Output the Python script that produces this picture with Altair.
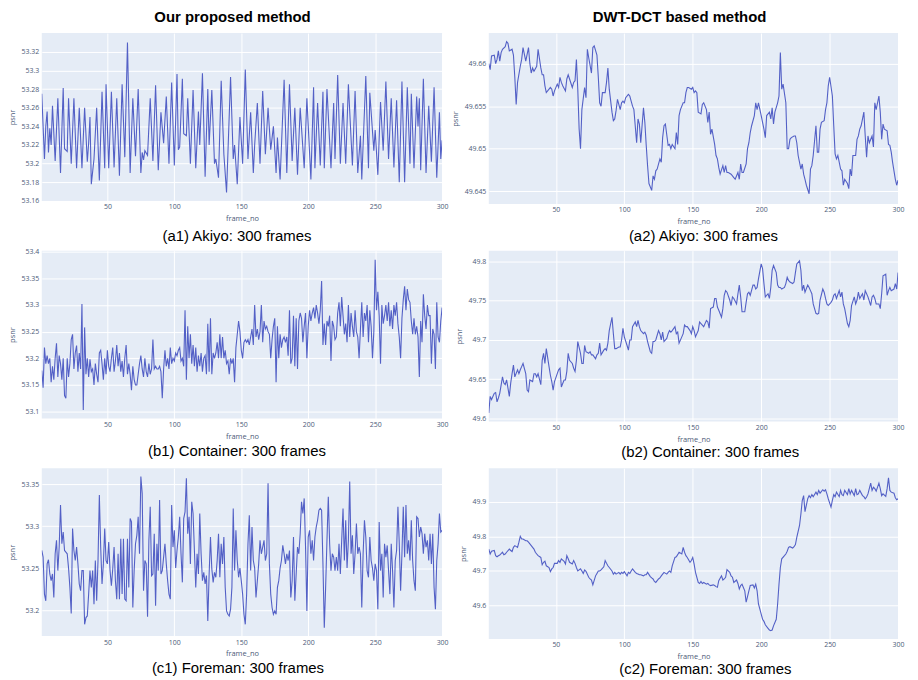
import altair as alt
import pandas as pd

# ---------------- data ----------------
XTICKS = [50, 100, 150, 200, 250, 300]

# (a1) Akiyo, proposed method: turning points (frame, psnr)
a1_frames = [1,3,4,5,6,7,8,9,11,13,15,17,18,20,21,23,25,27,29,31,33,35,36,37,38,40,42,44,46,48,49,51,53,55,57,59,61,63,65,67,69,71,73,75,76,77,78,80,82,84,86,88,90,92,94,96,98,100,102,103,104,106,107,109,110,112,114,116,118,119,121,123,125,126,128,130,131,133,135,137,139,142,144,145,147,149,151,153,155,157,159,160,162,164,166,168,170,172,174,176,177,179,182,184,186,188,190,192,194,197,199,202,204,205,207,209,211,212,214,217,219,220,222,224,226,228,230,233,235,237,239,240,243,245,246,249,250,252,254,256,258,260,262,264,266,268,270,272,274,276,277,279,281,282,283,284,286,288,290,292,294,296,298,299,300]
a1_psnr = [53.275,53.205,53.24,53.256,53.212,53.238,53.22,53.262,53.203,53.27,53.19,53.281,53.216,53.213,53.27,53.2,53.27,53.195,53.26,53.195,53.26,53.202,53.222,53.25,53.178,53.205,53.26,53.182,53.277,53.195,53.285,53.195,53.277,53.196,53.27,53.187,53.285,53.207,53.33,53.19,53.27,53.208,53.28,53.19,53.212,53.204,53.214,53.209,53.27,53.203,53.284,53.193,53.255,53.222,53.272,53.2,53.287,53.198,53.296,53.215,53.218,53.291,53.232,53.23,53.27,53.2,53.279,53.195,53.256,53.22,53.297,53.186,53.28,53.22,53.279,53.2,53.205,53.185,53.289,53.21,53.169,53.293,53.205,53.22,53.178,53.25,53.2,53.301,53.205,53.255,53.19,53.22,53.265,53.2,53.278,53.21,53.26,53.215,53.24,53.19,53.228,53.183,53.29,53.19,53.285,53.203,53.26,53.188,53.26,53.195,53.27,53.183,53.282,53.195,53.265,53.198,53.277,53.195,53.28,53.195,53.265,53.205,53.295,53.2,53.265,53.2,53.285,53.198,53.278,53.19,53.23,53.183,53.294,53.195,53.276,53.214,53.236,53.188,53.266,53.214,53.288,53.205,53.27,53.196,53.268,53.18,53.288,53.18,53.282,53.2,53.275,53.195,53.272,53.24,53.27,53.193,53.291,53.19,53.262,53.202,53.282,53.185,53.255,53.205,53.225]

# (a2) Akiyo, DWT-DCT method
a2_frames = [1,2,3,5,6,7,8,9,10,11,13,14,15,16,18,19,20,21,22,24,25,26,27,28,30,31,32,33,34,36,37,39,40,41,42,43,45,46,47,48,49,51,52,53,54,55,57,58,59,60,62,63,64,65,66,67,68,69,71,72,73,74,76,77,78,80,81,82,83,84,86,87,88,89,91,92,93,94,95,97,98,99,100,101,103,104,105,106,107,109,110,111,112,114,115,116,117,118,120,121,122,123,124,126,127,128,129,130,132,133,134,135,137,138,139,140,141,143,144,145,146,147,149,150,151,152,153,154,156,157,158,160,161,162,163,164,166,167,168,169,170,172,173,174,175,176,178,179,180,181,183,184,185,186,187,189,190,191,192,193,195,196,197,198,200,201,202,203,204,206,207,208,209,210,212,213,214,215,216,218,219,220,221,222,224,225,226,227,229,230,231,232,233,235,236,237,238,240,241,242,243,244,246,247,248,249,250,252,253,254,255,256,258,259,260,261,263,264,265,266,267,269,270,271,272,273,275,276,277,278,279,281,282,283,284,286,287,288,289,290,292,293,294,295,296,298,299,300]
a2_psnr = [49.6600,49.6593,49.6609,49.6610,49.6600,49.6605,49.6615,49.6603,49.6613,49.6617,49.6620,49.6626,49.6624,49.6615,49.6617,49.6610,49.6584,49.6552,49.6578,49.6597,49.6605,49.6619,49.6611,49.6603,49.6619,49.6600,49.6589,49.6595,49.6591,49.6597,49.6617,49.6595,49.6587,49.6587,49.6574,49.6566,49.6570,49.6572,49.6570,49.6562,49.6568,49.6576,49.6572,49.6584,49.6578,49.6574,49.6568,49.6582,49.6587,49.6582,49.6572,49.6578,49.6580,49.6605,49.6570,49.6523,49.6500,49.6546,49.6572,49.6560,49.6617,49.6607,49.6589,49.6619,49.6621,49.6610,49.6584,49.6554,49.6550,49.6566,49.6566,49.6578,49.6595,49.6570,49.6543,49.6533,49.6535,49.6545,49.6558,49.6546,49.6554,49.6556,49.6554,49.6560,49.6564,49.6562,49.6556,49.6550,49.6546,49.6507,49.6535,49.6529,49.6507,49.6548,49.6531,49.6504,49.6480,49.6459,49.6451,49.6468,49.6464,49.6474,49.6476,49.6488,49.6484,49.6513,49.6527,49.6529,49.6504,49.6505,49.6500,49.6505,49.6500,49.6519,49.6505,49.6539,49.6546,49.6554,49.6554,49.6566,49.6572,49.6572,49.6570,49.6572,49.6566,49.6568,49.6566,49.6543,49.6541,49.6552,49.6554,49.6546,49.6531,49.6543,49.6517,49.6523,49.6505,49.6492,49.6488,49.6478,49.6470,49.6480,49.6472,49.6480,49.6472,49.6472,49.6470,49.6468,49.6466,49.6464,49.6472,49.6464,49.6482,49.6472,49.6472,49.6482,49.6500,49.6507,49.6519,49.6527,49.6539,49.6554,49.6546,49.6554,49.6539,49.6531,49.6523,49.6513,49.6539,49.6543,49.6535,49.6548,49.6529,49.6543,49.6554,49.6562,49.6613,49.6570,49.6576,49.6554,49.6500,49.6500,49.6511,49.6513,49.6515,49.6515,49.6507,49.6492,49.6476,49.6482,49.6470,49.6464,49.6457,49.6447,49.6476,49.6480,49.6492,49.6527,49.6496,49.6496,49.6523,49.6531,49.6533,49.6546,49.6554,49.6574,49.6584,49.6562,49.6527,49.6494,49.6488,49.6492,49.6476,49.6474,49.6457,49.6464,49.6459,49.6453,49.6476,49.6468,49.6492,49.6492,49.6511,49.6515,49.6523,49.6527,49.6543,49.6515,49.6490,49.6515,49.6507,49.6515,49.6502,49.6554,49.6546,49.6562,49.6543,49.6511,49.6529,49.6523,49.6521,49.6505,49.6504,49.6496,49.6484,49.6464,49.6457,49.6463]

# (b1) Container, proposed method: one value per frame 1..300
b1_psnr = [53.177,53.145,53.22,53.19,53.205,53.19,53.2,53.155,53.185,53.16,
53.2,53.228,53.165,53.205,53.19,53.16,53.2,53.13,53.125,53.2,
53.165,53.19,53.235,53.245,53.18,53.21,53.224,53.175,53.21,53.18,
53.302,53.103,53.258,53.17,53.2,53.165,53.198,53.175,53.18,53.15,
53.19,53.17,53.155,53.21,53.215,53.19,53.16,53.2,53.17,53.215,
53.185,53.175,53.2,53.22,53.175,53.195,53.225,53.185,53.21,53.175,
53.195,53.165,53.2,53.225,53.17,53.19,53.17,53.14,53.185,53.16,
53.15,53.15,53.17,53.19,53.205,53.18,53.165,53.2,53.175,53.165,
53.19,53.17,53.18,53.235,53.18,53.185,53.18,53.18,53.185,53.175,
53.125,53.18,53.215,53.185,53.2,53.18,53.22,53.19,53.2,53.195,
53.21,53.205,53.215,53.22,53.195,53.2,53.185,53.29,53.16,53.26,
53.2,53.245,53.19,53.225,53.185,53.22,53.175,53.205,53.185,53.21,
53.175,53.2,53.205,53.17,53.265,53.175,53.275,53.17,53.21,53.2,
53.21,53.23,53.2,53.245,53.2,53.24,53.2,53.215,53.19,53.195,
53.17,53.2,53.19,53.2,53.155,53.22,53.245,53.27,53.25,53.215,
53.2,53.23,53.235,53.23,53.235,53.225,53.24,53.255,53.225,53.3,
53.24,53.255,53.235,53.25,53.3,53.23,53.27,53.255,53.26,53.25,
53.245,53.2,53.235,53.26,53.275,53.155,53.26,53.2,53.245,53.22,
53.235,53.24,53.23,53.24,53.205,53.29,53.19,53.2,53.28,53.185,
53.275,53.18,53.27,53.285,53.275,53.23,53.26,53.285,53.2,53.26,
53.29,53.27,53.285,53.295,53.275,53.3,53.285,53.265,53.29,53.345,
53.225,53.265,53.225,53.27,53.26,53.28,53.195,53.27,53.26,53.235,
53.24,53.285,53.305,53.26,53.315,53.28,53.245,53.265,53.23,53.3,
53.24,53.285,53.26,53.24,53.29,53.25,53.24,53.2,53.255,53.305,
53.24,53.285,53.27,53.3,53.23,53.29,53.26,53.2,53.25,53.385,
53.29,53.325,53.28,53.19,53.3,53.265,53.28,53.3,53.27,53.305,
53.26,53.29,53.255,53.3,53.28,53.305,53.265,53.24,53.2,53.275,
53.31,53.335,53.29,53.33,53.31,53.305,53.27,53.245,53.275,53.245,
53.26,53.24,53.165,53.27,53.23,53.32,53.28,53.255,53.3,53.28,
53.28,53.19,53.255,53.245,53.18,53.305,53.24,53.23,53.27,53.295]

# (b2) Container and (c2) Foreman, DWT-DCT method: shared sampling frames
dwt_frames = [1,2,3,5,6,7,8,9,11,12,13,14,16,17,18,19,20,22,23,24,25,26,28,29,30,31,33,34,35,36,37,39,40,41,42,43,45,46,47,48,49,51,52,53,54,56,57,58,59,60,62,63,64,65,66,68,69,70,71,72,74,75,76,77,79,80,81,82,83,85,86,87,88,89,91,92,93,94,96,97,98,99,100,102,103,104,105,106,108,109,110,111,112,114,115,116,117,119,120,121,122,123,125,126,127,128,129,131,132,133,134,135,137,138,139,140,142,143,144,145,146,148,149,150,151,152,154,155,156,157,158,160,161,162,163,165,166,167,168,169,171,172,173,174,175,177,178,179,180,182,183,184,185,186,188,189,190,191,192,194,195,196,197,198,200,201,202,203,205,206,207,208,209,211,212,213,214,215,217,218,219,220,221,223,224,225,226,228,229,230,231,232,234,235,236,237,238,240,241,242,243,245,246,247,248,249,251,252,253,254,255,257,258,259,260,261,263,264,265,266,268,269,270,271,272,274,275,276,277,278,280,281,282,283,284,286,287,288,289,291,292,293,294,295,297,298,299,300]
b2_psnr = [49.607,49.628,49.624,49.632,49.633,49.621,49.626,49.632,49.653,49.645,
49.643,49.649,49.628,49.645,49.657,49.668,49.653,49.662,49.657,49.662,
49.666,49.670,49.657,49.636,49.634,49.649,49.647,49.657,49.657,49.653,
49.657,49.643,49.674,49.683,49.670,49.689,49.666,49.655,49.647,49.636,
49.647,49.657,49.662,49.664,49.640,49.649,49.649,49.660,49.683,49.674,
49.670,49.664,49.660,49.674,49.698,49.683,49.670,49.670,49.693,49.685,
49.683,49.685,49.681,49.681,49.676,49.681,49.683,49.696,49.681,49.687,
49.689,49.687,49.696,49.712,49.729,49.708,49.689,49.689,49.691,49.691,
49.700,49.715,49.704,49.693,49.687,49.700,49.700,49.717,49.723,49.717,
49.725,49.717,49.712,49.708,49.710,49.706,49.698,49.685,49.683,49.698,
49.698,49.700,49.712,49.708,49.700,49.710,49.698,49.702,49.708,49.712,
49.710,49.712,49.717,49.708,49.710,49.696,49.704,49.708,49.719,49.717,
49.717,49.712,49.708,49.717,49.712,49.704,49.712,49.723,49.721,49.719,
49.717,49.725,49.723,49.715,49.740,49.742,49.753,49.753,49.742,49.738,
49.729,49.740,49.757,49.763,49.761,49.751,49.744,49.755,49.753,49.746,
49.759,49.770,49.755,49.736,49.736,49.748,49.759,49.761,49.757,49.770,
49.770,49.765,49.767,49.778,49.797,49.791,49.772,49.755,49.759,49.753,
49.767,49.789,49.795,49.786,49.770,49.767,49.767,49.765,49.767,49.772,
49.780,49.776,49.774,49.772,49.774,49.786,49.797,49.801,49.789,49.763,
49.770,49.761,49.770,49.767,49.763,49.759,49.746,49.734,49.733,49.734,
49.751,49.765,49.761,49.753,49.746,49.744,49.748,49.751,49.757,49.759,
49.753,49.763,49.755,49.761,49.746,49.740,49.721,49.717,49.725,49.744,
49.755,49.746,49.751,49.761,49.753,49.759,49.751,49.763,49.759,49.755,
49.744,49.755,49.757,49.753,49.746,49.746,49.740,49.759,49.782,49.784,
49.757,49.763,49.767,49.763,49.765,49.772,49.765,49.786]

# (c1) Foreman, proposed method: one value per frame 1..300
c1_psnr = [53.271,53.263,53.219,53.211,53.255,53.26,53.243,53.235,53.243,53.215,
53.267,53.283,53.247,53.275,53.325,53.279,53.293,53.271,53.269,53.267,
53.25,53.227,53.196,53.297,53.271,53.259,53.275,53.255,53.231,53.223,
53.247,53.247,53.183,53.191,53.193,53.219,53.247,53.227,53.247,53.207,
53.259,53.211,53.259,53.337,53.275,53.231,53.255,53.297,53.259,53.255,
53.281,53.247,53.229,53.249,53.275,53.235,53.213,53.267,53.213,53.285,
53.219,53.285,53.213,53.211,53.285,53.227,53.309,53.305,53.203,53.247,
53.279,53.289,53.311,53.267,53.359,53.339,53.223,53.259,53.255,53.192,
53.283,53.323,53.241,53.243,53.291,53.205,53.279,53.247,53.331,53.243,
53.247,53.263,53.279,53.255,53.235,53.219,53.213,53.325,53.275,53.295,
53.25,53.271,53.287,53.311,53.267,53.233,53.309,53.317,53.357,53.291,
53.311,53.255,53.329,53.315,53.271,53.227,53.267,53.243,53.315,53.267,
53.235,53.245,53.231,53.241,53.187,53.243,53.287,53.249,53.233,53.245,
53.239,53.259,53.291,53.239,53.279,53.255,53.287,53.227,53.199,53.195,
53.193,53.201,53.227,53.321,53.247,53.295,53.259,53.239,53.25,53.235,
53.219,53.195,53.183,53.219,53.279,53.313,53.247,53.299,53.259,53.25,
53.215,53.235,53.255,53.283,53.267,53.275,53.283,53.259,53.267,53.351,
53.255,53.219,53.203,53.195,53.199,53.195,53.227,53.235,53.25,53.259,
53.277,53.267,53.255,53.267,53.259,53.271,53.215,53.235,53.287,53.211,
53.243,53.275,53.267,53.291,53.329,53.315,53.333,53.275,53.199,53.287,
53.295,53.267,53.283,53.259,53.287,53.299,53.307,53.319,53.321,53.319,
53.255,53.179,53.227,53.283,53.335,53.279,53.247,53.267,53.263,53.247,
53.263,53.247,53.279,53.243,53.283,53.321,53.259,53.307,53.25,53.283,
53.353,53.267,53.289,53.243,53.267,53.303,53.267,53.275,53.267,53.203,
53.267,53.307,53.287,53.247,53.239,53.287,53.259,53.25,53.235,53.255,
53.247,53.201,53.305,53.247,53.267,53.215,53.279,53.263,53.277,53.247,
53.219,53.279,53.247,53.203,53.259,53.271,53.323,53.279,53.223,53.267,
53.323,53.263,53.325,53.267,53.283,53.259,53.307,53.259,53.235,53.223,
53.311,53.309,53.287,53.299,53.291,53.267,53.291,53.275,53.283,53.259,
53.291,53.255,53.291,53.227,53.201,53.259,53.279,53.315,53.293,53.295]

c2_psnr = [49.763,49.749,49.757,49.759,49.744,49.741,49.744,49.746,49.754,49.747,
49.749,49.754,49.763,49.759,49.756,49.768,49.773,49.768,49.783,49.800,
49.792,49.792,49.787,49.787,49.783,49.778,49.768,49.763,49.754,49.749,
49.744,49.739,49.718,49.725,49.728,49.715,49.710,49.698,49.706,49.710,
49.722,49.722,49.730,49.725,49.735,49.728,49.720,49.744,49.735,49.725,
49.720,49.730,49.722,49.710,49.700,49.706,49.700,49.693,49.703,49.699,
49.682,49.677,49.674,49.660,49.686,49.693,49.700,49.700,49.703,49.712,
49.730,49.722,49.715,49.710,49.700,49.691,49.696,49.691,49.696,49.691,
49.696,49.693,49.698,49.686,49.696,49.693,49.700,49.706,49.696,49.693,
49.691,49.689,49.689,49.686,49.689,49.689,49.696,49.684,49.680,49.677,
49.670,49.667,49.677,49.680,49.686,49.691,49.696,49.691,49.696,49.700,
49.696,49.715,49.739,49.741,49.747,49.754,49.749,49.768,49.754,49.744,
49.739,49.725,49.730,49.739,49.720,49.696,49.667,49.664,49.670,49.664,
49.667,49.662,49.664,49.660,49.658,49.660,49.658,49.655,49.653,49.672,
49.686,49.674,49.677,49.682,49.704,49.696,49.686,49.682,49.667,49.674,
49.664,49.648,49.658,49.662,49.643,49.610,49.626,49.643,49.658,49.660,
49.651,49.662,49.643,49.605,49.576,49.561,49.555,49.545,49.535,49.530,
49.528,49.530,49.542,49.561,49.605,49.662,49.710,49.735,49.744,49.749,
49.757,49.768,49.770,49.766,49.770,49.776,49.797,49.831,49.864,49.903,
49.917,49.871,49.908,49.917,49.911,49.920,49.914,49.927,49.920,49.932,
49.924,49.934,49.930,49.934,49.922,49.908,49.884,49.903,49.920,49.914,
49.927,49.914,49.932,49.920,49.917,49.932,49.920,49.937,49.922,49.932,
49.917,49.937,49.920,49.922,49.932,49.917,49.914,49.908,49.913,49.922,
49.953,49.932,49.941,49.937,49.930,49.953,49.937,49.917,49.922,49.915,
49.937,49.968,49.932,49.927,49.924,49.911,49.905,49.908]

per_frame = list(range(1, 301))

HEADINGS = ["Our proposed method", "DWT-DCT based method"]
CAPTIONS = ["(a1) Akiyo: 300 frames", "(a2) Akiyo: 300 frames",
            "(b1) Container: 300 frames", "(b2) Container: 300 frames",
            "(c1) Foreman: 300 frames", "(c2) Foreman: 300 frames"]

# ---------------- style ----------------
LINE = "#5360c6"
TXT = "#4b5a78"
LW, RW = 403, 412
LH, RH = 169, 172


def panel(frames, vals, ydom, yticks, w, h, caption, cap_dx, cap_off, heading=None):
    df = pd.DataFrame({"frame": frames, "psnr": vals})
    line = alt.Chart(df).mark_line(color=LINE, strokeWidth=1.1, clip=True).encode(
        x=alt.X("frame:Q",
                scale=alt.Scale(domain=[1, 300], nice=False, zero=False),
                axis=alt.Axis(values=XTICKS, title="frame_no", labelFlush=False)),
        y=alt.Y("psnr:Q",
                scale=alt.Scale(domain=ydom, nice=False, zero=False),
                axis=alt.Axis(values=yticks, format="~g", title="psnr")),
    )
    layers = [line]
    if heading:
        hd = pd.DataFrame({"t": [heading]})
        layers.append(
            alt.Chart(hd).mark_text(font="Liberation Sans", fontSize=15, fontWeight="bold",
                                    color="black", align="center", baseline="alphabetic")
            .encode(x=alt.value(192), y=alt.value(-11), text="t:N"))
    return alt.layer(*layers).properties(
        width=w, height=h,
        title=alt.TitleParams(caption, orient="bottom", anchor="middle", dx=cap_dx,
                              offset=cap_off, font="Liberation Sans", fontSize=15,
                              fontWeight="normal", color="black"))


a1 = panel(a1_frames, a1_psnr, [53.16, 53.34],
           [53.16, 53.18, 53.2, 53.22, 53.24, 53.26, 53.28, 53.3, 53.32],
           LW, LH, CAPTIONS[0], -5, 7, HEADINGS[0])
a2 = panel(a2_frames, a2_psnr, [49.6435, 49.6636],
           [49.645, 49.65, 49.655, 49.66], RW, RH, CAPTIONS[1], 10, 4, HEADINGS[1])
b1 = panel(per_frame, b1_psnr, [53.087, 53.402],
           [53.1, 53.15, 53.2, 53.25, 53.3, 53.35, 53.4], LW, LH, CAPTIONS[2], -5, 4)
b2 = panel(dwt_frames, b2_psnr, [49.596, 49.814],
           [49.6, 49.65, 49.7, 49.75, 49.8], RW, RH, CAPTIONS[3], 17, 2)
c1 = panel(per_frame, c1_psnr, [53.169, 53.369],
           [53.2, 53.25, 53.3, 53.35], LW, LH, CAPTIONS[4], -4, 4)
c2 = panel(dwt_frames, c2_psnr, [49.504, 49.996],
           [49.6, 49.7, 49.8, 49.9], RW, RH, CAPTIONS[5], 12, 2)

chart = alt.concat(a1, a2, b1, b2, c1, c2, columns=2, spacing=47, bounds="flush").properties(
    padding={"left": 0, "top": 0, "right": 5, "bottom": 5},
    background="white",
).configure_view(
    fill="#E5ECF6", stroke=None
).configure_axis(
    grid=True, gridColor="white", gridWidth=1, domain=False, ticks=False,
    labelFont="Open Sans", labelFontSize=7, labelColor=TXT, labelPadding=3,
    titleFont="Open Sans", titleFontSize=7.5, titleFontWeight="normal", titleColor=TXT,
).configure_axisX(
    labelPadding=2, titlePadding=5
).configure_axisY(
    titlePadding=4.5
)

chart.save("out.html", embed_options={"renderer": "svg", "actions": False})
